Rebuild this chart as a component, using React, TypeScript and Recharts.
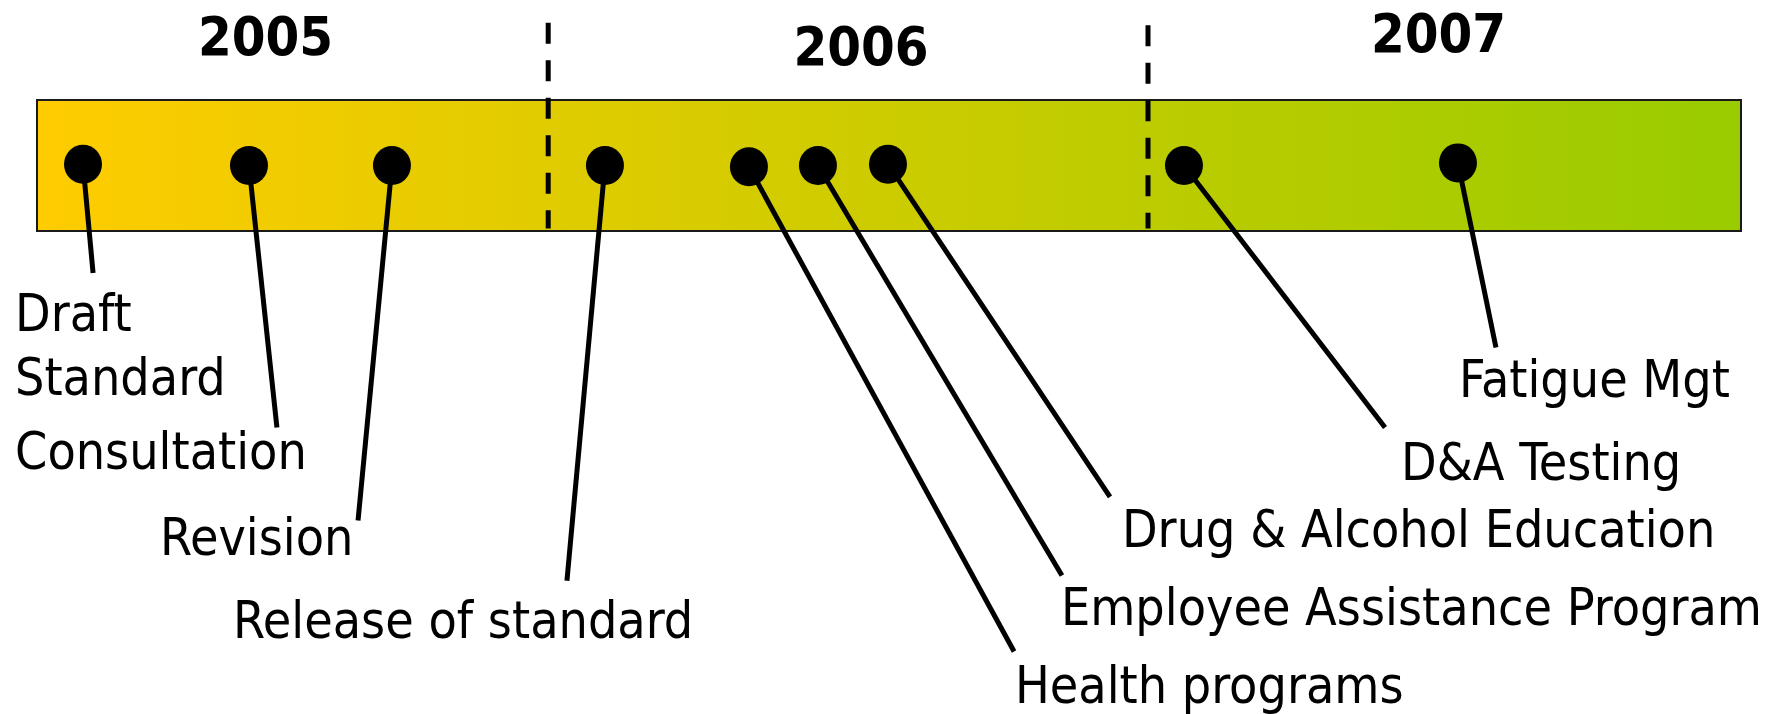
import { ReferenceArea, ReferenceDot, ReferenceLine, Scatter, ScatterChart, XAxis, YAxis } from 'recharts'

// timeline position: 0..100 across the bar; depth: 0 = top of bar, 1 = bottom of bar
const eventLines = [
  ['Draft', 'Standard'],
  ['Consultation'],
  ['Revision'],
  ['Release of standard'],
  ['Health programs'],
  ['Employee Assistance Program'],
  ['Drug & Alcohol Education'],
  ['D&A Testing'],
  ['Fatigue Mgt'],
]
const eventPos = [2.7, 12.44, 20.83, 33.33, 41.78, 45.83, 49.94, 67.31, 83.39]
const eventDepth = [0.49, 0.5, 0.5, 0.5, 0.51, 0.5, 0.49, 0.5, 0.48]
const leaderEndPos = [3.29, 14.08, 18.84, 31.1, 57.34, 60.15, 62.97, 79.11, 85.62]
const leaderEndDepth = [1.32, 2.5, 3.21, 3.67, 4.21, 3.63, 3.03, 2.5, 1.89]
const labelPos = [-1.29, -1.29, 7.22, 11.5, 57.39, 60.09, 63.67, 80.05, 83.45]
const labelDepth = [1.76, 2.82, 3.47, 4.11, 4.6, 4.01, 3.41, 2.9, 2.27]

const years = ['2005', '2006', '2007']
const yearLabelPos = [13.41, 48.36, 82.25]
const yearLabelDepth = [-0.34, -0.27, -0.37]
const yearBreaks = [30, 65.2]
const yearBreakTop = [-0.59, -0.57]
const yearBreakBottom = 0.98

const dots = eventPos.map((pos, i) => ({ pos, depth: eventDepth[i] }))

const labelFont = "'DejaVu Sans Condensed', 'DejaVu Sans', sans-serif"

const EventDot = (props: any) => <ellipse cx={props.cx} cy={props.cy} rx={19} ry={19.5} fill="#000" />

const eventLabel = (lines: string[]) => (props: any) => (
  <text
    x={props.cx}
    y={props.cy}
    fontFamily={labelFont}
    fontStretch="condensed"
    fontSize={51.5}
    fill="#000"
    textAnchor="start"
  >
    {lines.map((line, i) => (
      <tspan key={line} x={props.cx} dy={i === 0 ? 0 : 64}>
        {line}
      </tspan>
    ))}
  </text>
)

const yearLabel = (year: string) => (props: any) => (
  <text
    x={props.cx}
    y={props.cy}
    fontFamily={labelFont}
    fontStretch="condensed"
    fontWeight="bold"
    fontSize={54}
    fill="#000"
    textAnchor="middle"
  >
    {year}
  </text>
)

export default function App() {
  return (
    <div style={{ width: 1782, height: 714, background: '#fff' }}>
      <style>{'body{margin:0}'}</style>
      <ScatterChart width={1782} height={714} margin={{ top: 100, left: 37, right: 41, bottom: 483 }}>
        <defs>
          <linearGradient id="barFill" x1="0" y1="0" x2="1" y2="0">
            <stop offset="0%" stopColor="#FFCC00" />
            <stop offset="100%" stopColor="#99CC00" />
          </linearGradient>
        </defs>
        <XAxis type="number" dataKey="pos" domain={[0, 100]} hide />
        <YAxis type="number" dataKey="depth" domain={[0, 1]} reversed hide />
        <ReferenceArea x1={0} x2={100} y1={0} y2={1} fill="url(#barFill)" fillOpacity={1} stroke="#1a1a1a" strokeWidth={2} />
        {yearBreaks.map((x, i) => (
          <ReferenceLine
            key={`break-${x}`}
            segment={[{ x, y: yearBreakTop[i] }, { x, y: yearBreakBottom }]}
            stroke="#000"
            strokeWidth={5}
            strokeDasharray="21 16.5"
            ifOverflow="visible"
          />
        ))}
        {years.map((year, i) => (
          <ReferenceDot
            key={year}
            x={yearLabelPos[i]}
            y={yearLabelDepth[i]}
            r={0}
            ifOverflow="visible"
            shape={yearLabel(year)}
          />
        ))}
        {eventPos.map((pos, i) => (
          <ReferenceLine
            key={`leader-${i}`}
            segment={[{ x: pos, y: eventDepth[i] }, { x: leaderEndPos[i], y: leaderEndDepth[i] }]}
            stroke="#000"
            strokeWidth={5}
            ifOverflow="visible"
          />
        ))}
        {eventLines.map((lines, i) => (
          <ReferenceDot
            key={`label-${i}`}
            x={labelPos[i]}
            y={labelDepth[i]}
            r={0}
            ifOverflow="visible"
            shape={eventLabel(lines)}
          />
        ))}
        <Scatter data={dots} shape={EventDot} isAnimationActive={false} />
      </ScatterChart>
    </div>
  )
}
